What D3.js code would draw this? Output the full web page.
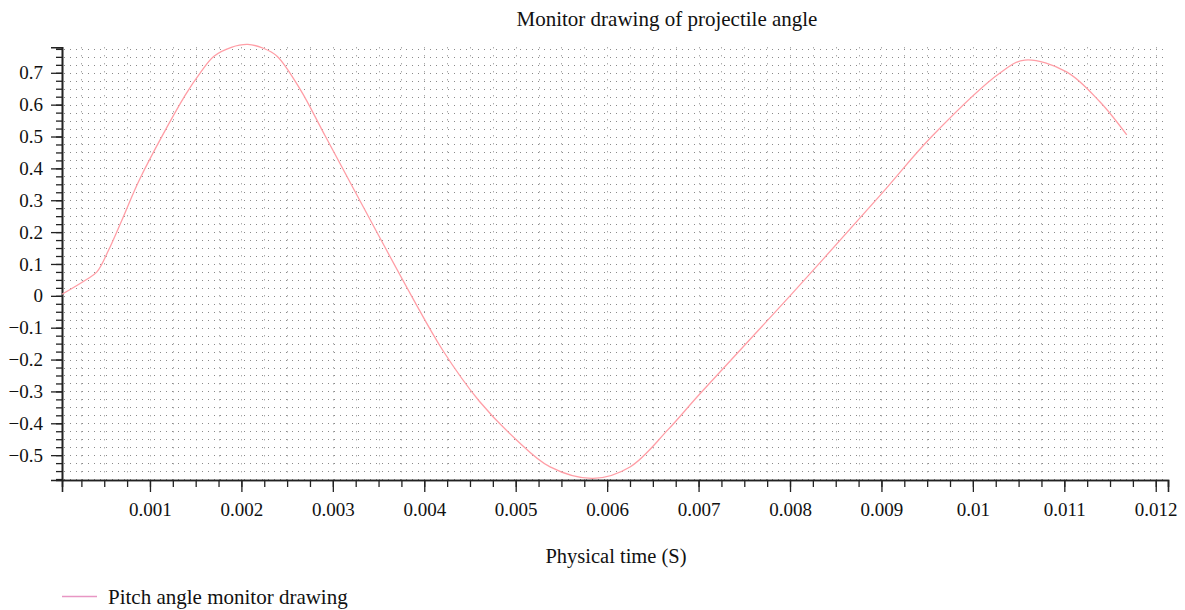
<!DOCTYPE html>
<html>
<head>
<meta charset="utf-8">
<script src="https://cdn.jsdelivr.net/npm/d3@7"></script>
<style>
  html, body { margin: 0; padding: 0; background: #fff; }
  svg { display: block; }
  text { font-family: "Liberation Serif", "DejaVu Serif", serif; fill: #111; }
</style>
</head>
<body>
<svg id="chart" width="1185" height="610"></svg>
<script>
// ---- data ----
const timeValues = [0.000038, 0.000293, 0.00042, 0.000547, 0.000694, 0.000894, 0.001386, 0.00155, 0.0017, 0.00189, 0.00207, 0.00224, 0.00239, 0.002643, 0.00292, 0.00386, 0.0042, 0.0046, 0.005, 0.005376, 0.005846, 0.00625, 0.006666, 0.007, 0.008, 0.009, 0.00955, 0.0103, 0.010568, 0.011024, 0.011389, 0.011683];
const pitchValues = [0.005, 0.049, 0.075, 0.143, 0.238, 0.37, 0.63, 0.70, 0.752, 0.78, 0.789, 0.777, 0.752, 0.648, 0.5, 0.0, -0.17, -0.33, -0.45, -0.537, -0.573, -0.537, -0.42, -0.312, 0.0, 0.32, 0.5, 0.70, 0.74, 0.703, 0.609, 0.505];
const xTickValues = [0.001, 0.002, 0.003, 0.004, 0.005, 0.006, 0.007, 0.008, 0.009, 0.01, 0.011, 0.012];
const xTickLabels = ["0.001", "0.002", "0.003", "0.004", "0.005", "0.006", "0.007", "0.008", "0.009", "0.01", "0.011", "0.012"];
const yTickValues = [-0.5, -0.4, -0.3, -0.2, -0.1, 0, 0.1, 0.2, 0.3, 0.4, 0.5, 0.6, 0.7];
const yTickLabels = ["\u22120.5", "\u22120.4", "\u22120.3", "\u22120.2", "\u22120.1", "0", "0.1", "0.2", "0.3", "0.4", "0.5", "0.6", "0.7"];
const xDomain = [0.000038, 0.012134];
const yDomain = [-0.578, 0.78];
const titleText = "Monitor drawing of projectile angle";
const xTitle = "Physical time (S)";
const seriesName = "Pitch angle monitor drawing";

// ---- layout ----
const mLeft = 62, mRight = 1168, mTop = 47.3, mBottom = 480;
const svg = d3.select("#chart");
const x = d3.scaleLinear().domain(xDomain).range([mLeft, mRight]);
const y = d3.scaleLinear().domain(yDomain).range([mBottom, mTop]);

// minor tick values (quarter steps)
const xMinor = d3.range(1, 49).map(i => i * 0.00025).filter(v => v <= xDomain[1] && v >= xDomain[0]);
const yMinor = d3.range(-23, 32).map(i => i * 0.025).filter(v => v >= yDomain[0] && v <= yDomain[1]);

// dotted grid
const grid = svg.append("g");
grid.selectAll("line.h").data(yMinor).join("line")
  .attr("x1", mLeft + 2).attr("x2", mRight)
  .attr("y1", d => Math.round(y(d)) + 0.5).attr("y2", d => Math.round(y(d)) + 0.5)
  .attr("stroke", "#8a8a8a").attr("stroke-width", 1)
  .attr("stroke-dasharray", "1,5");
grid.selectAll("line.v").data(xMinor).join("line")
  .attr("x1", d => Math.round(x(d)) + 0.5).attr("x2", d => Math.round(x(d)) + 0.5)
  .attr("y1", mTop).attr("y2", mBottom)
  .attr("stroke", "#8a8a8a").attr("stroke-width", 1)
  .attr("stroke-dasharray", "1,7");

// axes
const yMinorAxis = d3.axisLeft(y).tickValues(yMinor).tickSize(6).tickFormat("");
const yAxis = d3.axisLeft(y).tickValues(yTickValues).tickSize(11)
  .tickFormat((d, i) => yTickLabels[i]);
const xMinorAxis = d3.axisBottom(x).tickValues(xMinor).tickSize(7).tickFormat("");
const xAxis = d3.axisBottom(x).tickValues(xTickValues).tickSize(12)
  .tickFormat((d, i) => xTickLabels[i]);

function styleAxis(g) {
  g.select(".domain").attr("stroke", "#222").attr("stroke-width", 1.6);
  g.selectAll(".tick line").attr("stroke", "#222").attr("stroke-width", 1.3);
  g.selectAll(".tick text").attr("font-family", "Liberation Serif, serif").attr("font-size", 19).attr("fill", "#111");
}
svg.append("g").attr("transform", `translate(${mLeft},0)`).call(yMinorAxis).call(styleAxis);
svg.append("g").attr("transform", `translate(${mLeft},0)`).call(yAxis).call(styleAxis)
  .selectAll(".tick text").attr("x", -19);
svg.append("g").attr("transform", `translate(0,${mBottom})`).call(xMinorAxis).call(styleAxis);
svg.append("g").attr("transform", `translate(0,${mBottom})`).call(xAxis).call(styleAxis)
  .selectAll(".tick text").attr("y", 23);

// curve
const line = d3.line().x(d => x(d[0])).y(d => y(d[1])).curve(d3.curveCatmullRom.alpha(0.5));
svg.append("path")
  .datum(timeValues.map((t, i) => [t, pitchValues[i]]))
  .attr("d", line)
  .attr("fill", "none")
  .attr("stroke", "#ff9ea6")
  .attr("stroke-width", 1.3);

// titles
svg.append("text").attr("x", 667).attr("y", 26).attr("text-anchor", "middle")
  .attr("font-size", 21).text(titleText);
svg.append("text").attr("x", 616).attr("y", 563).attr("text-anchor", "middle")
  .attr("font-size", 20.5).text(xTitle);

// legend
svg.append("line").attr("x1", 62).attr("x2", 97).attr("y1", 596.5).attr("y2", 596.5)
  .attr("stroke", "#e896c4").attr("stroke-width", 1.3);
svg.append("text").attr("x", 108).attr("y", 604).attr("font-size", 21).text(seriesName);
</script>
</body>
</html>
